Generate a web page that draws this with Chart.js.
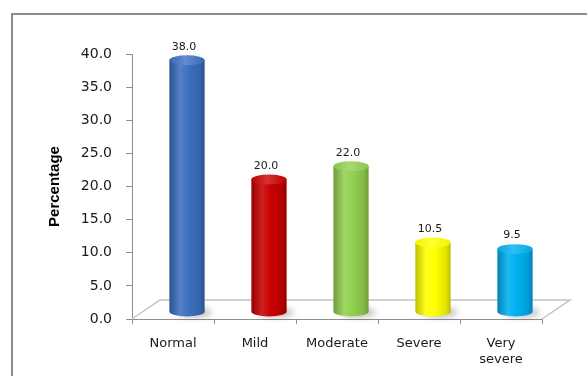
<!DOCTYPE html>
<html>
<head>
<meta charset="utf-8">
<script src="https://cdn.jsdelivr.net/npm/chart.js@4.4.1/dist/chart.umd.min.js"></script>
<style>
  html, body { margin: 0; padding: 0; background: #fff; }
  canvas { display: block; }
</style>
</head>
<body>
<canvas id="myChart" width="587" height="376"></canvas>
<script>
const ctx = document.getElementById('myChart').getContext('2d');

// severity groups and share of respondents (%)
var categories = ['Normal', 'Mild', 'Moderate', 'Severe', ['Very', 'severe']];
var percentage = [38.0, 20.0, 22.0, 10.5, 9.5];
var yTicks = [0, 5, 10, 15, 20, 25, 30, 35, 40];

var barColors = ['#3b6fbf', '#c80000', '#92d050', '#ffff00', '#00b0f0'];

// depth of the 3d floor, in px
var depthX = 28, depthY = 19;

function shade(hex, f) {
    var n = parseInt(hex.slice(1), 16);
    var rgb = [n >> 16, (n >> 8) & 255, n & 255].map(function (c) {
        return Math.round(f < 0 ? c * (1 + f) : c + (255 - c) * f);
    });
    return 'rgb(' + rgb.join(',') + ')';
}

// grey frame round the chart
var framePlugin = {
    id: 'frame',
    beforeDraw(chart) {
        var c = chart.ctx;
        c.save();
        c.strokeStyle = '#8c8c8c';
        c.lineWidth = 2;
        c.beginPath();
        c.moveTo(12, chart.height);
        c.lineTo(12, 14);
        c.lineTo(chart.width, 14);
        c.stroke();
        c.restore();
    }
};

// the floor the cylinders stand on
var floorPlugin = {
    id: 'floor',
    beforeDatasetsDraw(chart) {
        var a = chart.chartArea;
        var y0 = chart.scales.y.getPixelForValue(0);
        var c = chart.ctx;
        c.save();
        c.strokeStyle = '#c2c2c2';
        c.lineWidth = 1.5;
        c.beginPath();
        c.moveTo(a.left, y0);
        c.lineTo(a.left + depthX, y0 - depthY);
        c.lineTo(a.right + depthX, y0 - depthY);
        c.lineTo(a.right, y0);
        c.stroke();
        c.restore();
    }
};

// draws each bar as a shaded cylinder plus its value
var cylinderPlugin = {
    id: 'cylinders',
    afterDatasetsDraw(chart) {
        var c = chart.ctx;
        var meta = chart.getDatasetMeta(0);
        var dx = depthX / 2, dy = -7;
        meta.data.forEach(function (bar, i) {
            var cx = bar.x + dx, top = bar.y + dy, base = bar.base + dy;
            var rx = bar.width / 2, ry = rx * 0.28;
            var col = barColors[i];

            // soft shadow on the floor
            c.save();
            c.fillStyle = 'rgba(0,0,0,0.25)';
            c.filter = 'blur(3px)';
            c.beginPath();
            c.ellipse(cx + 7, base + 1, rx, ry, 0, 0, 2 * Math.PI);
            c.fill();
            c.restore();

            // body
            c.save();
            var g = c.createLinearGradient(cx - rx, 0, cx + rx, 0);
            g.addColorStop(0, shade(col, -0.25));
            g.addColorStop(0.3, shade(col, 0.12));
            g.addColorStop(0.55, col);
            g.addColorStop(0.85, shade(col, -0.1));
            g.addColorStop(1, shade(col, -0.25));
            c.fillStyle = g;
            c.beginPath();
            c.moveTo(cx - rx, top);
            c.lineTo(cx - rx, base);
            c.ellipse(cx, base, rx, ry, 0, Math.PI, 0, true);
            c.lineTo(cx + rx, top);
            c.closePath();
            c.fill();

            // top cap
            var t = c.createLinearGradient(cx - rx, 0, cx + rx, 0);
            t.addColorStop(0, shade(col, -0.05));
            t.addColorStop(0.45, shade(col, 0.2));
            t.addColorStop(1, shade(col, -0.05));
            c.fillStyle = t;
            c.beginPath();
            c.ellipse(cx, top, rx, ry, 0, 0, 2 * Math.PI);
            c.fill();
            c.restore();

            // value
            c.save();
            c.fillStyle = '#1a1a1a';
            c.font = '11px "DejaVu Sans"';
            c.textAlign = 'center';
            c.textBaseline = 'bottom';
            c.fillText(percentage[i].toFixed(1), cx - 3, top - ry - 3);
            c.restore();
        });
    }
};

const myChart = new Chart(ctx, {
    type: 'bar',
    data: {
        labels: categories,
        datasets: [{
            data: percentage,
            backgroundColor: 'rgba(0,0,0,0)',
            barPercentage: 0.43,
            categoryPercentage: 1
        }]
    },
    options: {
        responsive: false,
        animation: false,
        devicePixelRatio: 1,
        layout: { padding: { left: 42, top: 54, right: 45, bottom: 0 } },
        plugins: {
            legend: { display: false },
            tooltip: { enabled: false }
        },
        scales: {
            x: {
                grid: { drawOnChartArea: false, tickLength: 5, color: '#8e8e8e' },
                border: { color: '#8e8e8e' },
                ticks: {
                    color: '#1a1a1a',
                    font: { family: 'DejaVu Sans', size: 13, lineHeight: 1.23 },
                    padding: 12,
                    maxRotation: 0,
                    autoSkip: false
                },
                afterFit: function (s) { s.height = 57; }
            },
            y: {
                min: 0,
                max: 40,
                afterBuildTicks: function (s) {
                    s.ticks = yTicks.map(function (v) { return { value: v }; });
                },
                grid: { drawOnChartArea: false, tickLength: 6, color: '#8e8e8e' },
                border: { color: '#8e8e8e' },
                ticks: {
                    color: '#1a1a1a',
                    font: { family: 'DejaVu Sans', size: 14 },
                    padding: 14,
                    callback: function (v) { return v.toFixed(1); }
                },
                title: {
                    display: true,
                    text: 'Percentage',
                    color: '#000',
                    font: { family: 'Liberation Sans', weight: 'bold', size: 15 }
                },
                afterFit: function (s) { s.width = 90; }
            }
        }
    },
    plugins: [framePlugin, floorPlugin, cylinderPlugin]
});
</script>
</body>
</html>
